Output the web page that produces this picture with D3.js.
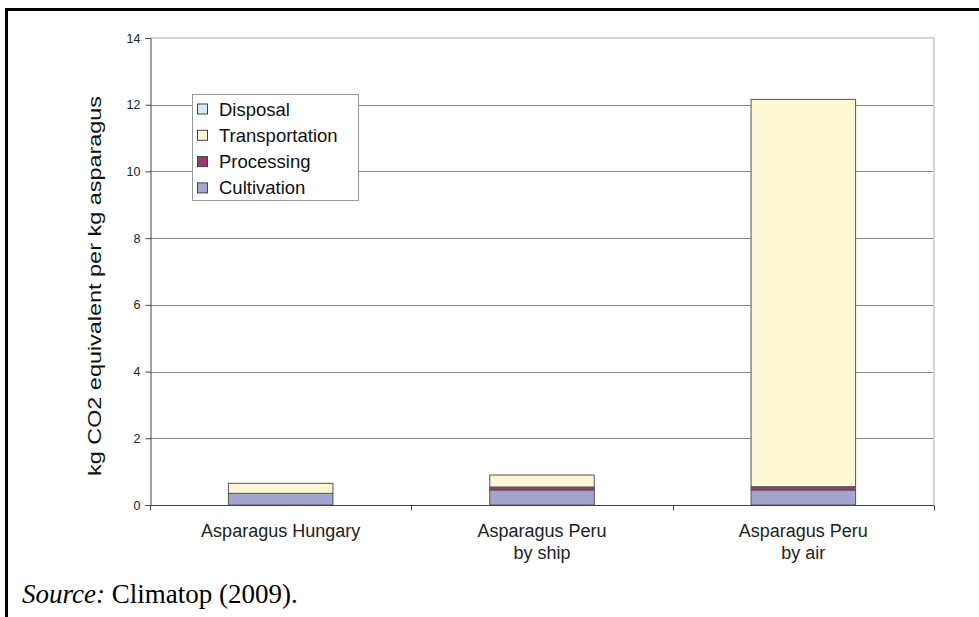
<!DOCTYPE html>
<html>
<head>
<meta charset="utf-8">
<script src="https://cdn.jsdelivr.net/npm/d3@7"></script>
<style>
  html, body { margin: 0; padding: 0; background: #fff; }
  svg { display: block; }
</style>
</head>
<body>
<svg id="chart" width="979" height="617"></svg>
<script>
// Emission sources per kg asparagus, stacked bottom to top
const categories = ["Asparagus Hungary", "Asparagus Peru|by ship", "Asparagus Peru|by air"];
const cultivation = [0.35, 0.45, 0.45];
const processing = [0.00, 0.09, 0.10];
const transportation = [0.30, 0.36, 11.61];
const disposal = [0.00, 0.00, 0.00];
const seriesNames = ["Cultivation", "Processing", "Transportation", "Disposal"];
const seriesColors = ["#a5a5d2", "#9b3a6c", "#fcf8d4", "#d2eaf2"];
const yTicks = [0, 2, 4, 6, 8, 10, 12, 14];
const yTitle = "kg CO2 equivalent per kg asparagus";

const svg = d3.select("#chart");
const sans = "Liberation Sans, Arial, sans-serif";

// Page frame: heavy rule along the top and left
svg.append("line").attr("x1", 5).attr("x2", 979).attr("y1", 9.5).attr("y2", 9.5)
  .attr("stroke", "#000").attr("stroke-width", 3);
svg.append("line").attr("x1", 6.5).attr("x2", 6.5).attr("y1", 8).attr("y2", 617)
  .attr("stroke", "#000").attr("stroke-width", 3);

const plotL = 150, plotR = 934, plotT = 38, plotB = 505;

const x = d3.scaleBand().domain(categories).range([plotL, plotR]).paddingInner(0.6).paddingOuter(0.3);
const xBand = d3.scaleBand().domain(categories).range([plotL, plotR]).padding(0);
const y = d3.scaleLinear().domain([0, 14]).range([plotB, plotT]);

// Gridlines
svg.append("g").selectAll("line").data(yTicks.filter(t => t > 0 && t < 14)).join("line")
  .attr("x1", plotL).attr("x2", plotR)
  .attr("y1", d => Math.round(y(d)) + 0.5).attr("y2", d => Math.round(y(d)) + 0.5)
  .attr("stroke", "#858585").attr("stroke-width", 1);

// Plot area frame (top and right)
svg.append("path")
  .attr("d", `M${plotL},${plotT} H${plotR} V${plotB}`)
  .attr("fill", "none").attr("stroke", "#d4d4d4").attr("stroke-width", 2);

// Stacked bars
const rows = categories.map((c, i) => ({
  cat: c, Cultivation: cultivation[i], Processing: processing[i],
  Transportation: transportation[i], Disposal: disposal[i]
}));
const stack = d3.stack().keys(seriesNames)(rows);
const bars = svg.append("g");
stack.forEach((layer, li) => {
  bars.append("g").selectAll("rect").data(layer.filter(d => d[1] - d[0] > 0)).join("rect")
    .attr("x", d => x(d.data.cat))
    .attr("width", x.bandwidth())
    .attr("y", d => y(d[1]))
    .attr("height", d => y(d[0]) - y(d[1]))
    .attr("fill", seriesColors[li])
    .attr("stroke", "#555").attr("stroke-width", 1);
});

// Y axis
const yAxis = svg.append("g").attr("transform", `translate(${plotL + 0.5},0)`)
  .call(d3.axisLeft(y).tickValues(yTicks).tickSize(5).tickPadding(5));
yAxis.select(".domain").attr("stroke", "#444");
yAxis.selectAll(".tick line").attr("stroke", "#444");
yAxis.selectAll("text").attr("font-family", sans)
  .attr("font-size", 12.5).attr("fill", "#222");

// X axis with ticks at category boundaries
const xAxisG = svg.append("g").attr("transform", `translate(0,${plotB + 0.5})`);
xAxisG.append("line").attr("x1", plotL).attr("x2", plotR).attr("stroke", "#444");
const bounds = categories.map(c => xBand(c)).concat([plotR]);
xAxisG.selectAll(".tk").data(bounds).join("line").attr("class", "tk")
  .attr("x1", d => Math.round(d) + 0.5).attr("x2", d => Math.round(d) + 0.5)
  .attr("y1", 0).attr("y2", 5).attr("stroke", "#444");
const labels = xAxisG.selectAll(".lbl").data(categories).join("text").attr("class", "lbl")
  .attr("x", d => xBand(d) + xBand.bandwidth() / 2)
  .attr("y", 31)
  .attr("text-anchor", "middle")
  .attr("font-family", sans)
  .attr("font-size", 18).attr("fill", "#222");
labels.each(function(d) {
  const parts = d.split("|");
  const t = d3.select(this);
  parts.forEach((p, i) => {
    t.append("tspan").attr("x", xBand(d) + xBand.bandwidth() / 2)
      .attr("dy", i === 0 ? 0 : 22).text(p);
  });
});

// Y axis title
svg.append("text")
  .attr("transform", `translate(101,286) rotate(-90)`)
  .attr("text-anchor", "middle")
  .attr("font-family", sans)
  .attr("font-size", 18).attr("fill", "#111")
  .attr("textLength", 380).attr("lengthAdjust", "spacingAndGlyphs")
  .text(yTitle);

// Legend (top of stack listed first)
const legend = svg.append("g");
legend.append("rect").attr("x", 192.5).attr("y", 94.5).attr("width", 166).attr("height", 106)
  .attr("fill", "#fff").attr("stroke", "#999").attr("stroke-width", 1);
const legendOrder = seriesNames.slice().reverse();
const legendColors = seriesColors.slice().reverse();
legendOrder.forEach((name, i) => {
  const cy = 109 + i * 26.3;
  legend.append("rect").attr("x", 197.5).attr("y", cy - 5).attr("width", 10).attr("height", 10)
    .attr("fill", legendColors[i]).attr("stroke", "#444").attr("stroke-width", 1);
  legend.append("text").attr("x", 219).attr("y", cy + 6.5)
    .attr("font-family", sans)
    .attr("font-size", 18.5).attr("fill", "#111").text(name);
});

// Source note
const src = svg.append("text").attr("x", 22).attr("y", 603)
  .attr("font-family", "Liberation Serif, Times New Roman, serif")
  .attr("font-size", 27).attr("fill", "#000");
src.append("tspan").attr("font-style", "italic").text("Source:");
src.append("tspan").text(" Climatop (2009).");
</script>
</body>
</html>
